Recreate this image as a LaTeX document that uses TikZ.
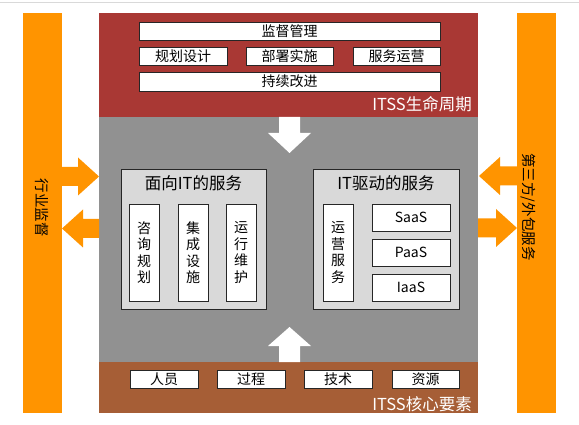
\documentclass[tikz,border=0pt]{standalone}
\usepackage{fontspec}
\usepackage{xcolor}
\usepackage{tikz}
\setmainfont{Noto Sans CJK SC}
\newfontfamily\cjk{Noto Sans CJK SC}
\definecolor{lifered}{RGB}{169,56,52}
\definecolor{coregray}{RGB}{145,145,145}
\definecolor{corebrown}{RGB}{166,94,54}
\definecolor{sideorange}{RGB}{255,148,0}
\definecolor{panelgray}{RGB}{217,217,217}
\begin{document}
\begin{tikzpicture}
        [x=1pt,y=-1pt,
         every node/.style={inner sep=0pt,font=\cjk\fontsize{14}{16.5}\selectfont},
         box/.style={draw=black!85,line width=0.8pt,fill=white,minimum height=18pt},
         vbox/.style={box,minimum width=30pt,minimum height=97pt,align=center},
         panel/.style={draw=black!85,line width=0.8pt,fill=panelgray,minimum width=145pt,minimum height=140pt},
         title/.style={font=\cjk\fontsize{16.5}{18}\selectfont},
         side/.style={rotate=-90,font=\cjk\fontsize{14.5}{16}\selectfont}]
        \useasboundingbox (0,0) rectangle (579,425);
        \draw[black!15,line width=1pt] (0,3) -- (579,3);

        % bands
        \fill[sideorange] (23,13) rectangle (62,413);
        \fill[sideorange] (517,13) rectangle (556,413);
        \fill[lifered] (99,13) rectangle (478,117);
        \fill[coregray] (99,117) rectangle (478,362);
        \fill[corebrown] (99,362) rectangle (478,413);

        % arrows
        \foreach \sx/\bx/\tx/\yc in {62/78/99/176.5,99/83/62/228.5,517/500/479/176,478/496/517/228}
          \fill[sideorange] (\sx,\yc-9.5) -- (\bx,\yc-9.5) -- (\bx,\yc-19) -- (\tx,\yc)
            -- (\bx,\yc+19) -- (\bx,\yc+9.5) -- (\sx,\yc+9.5) -- cycle;
        \foreach \sy/\by/\ty in {117/133/153,362/346/327}
          \fill[white] (279,\sy) -- (279,\by) -- (268,\by) -- (289.5,\ty)
            -- (311,\by) -- (300,\by) -- (300,\sy) -- cycle;

        % ITSS life cycle
        \node[box,minimum width=301pt] (supervise) at (289.5,31) {监督管理};
        \node[box,minimum width=88pt] (plan) at (183,56) {规划设计};
        \node[box,minimum width=87pt] (deploy) at (289.5,56) {部署实施};
        \node[box,minimum width=87pt] (operate) at (396.5,56) {服务运营};
        \node[box,minimum width=301pt,minimum height=19pt] (improve) at (289.5,81.5) {持续改进};
        \node[title,text=white,anchor=east] (lifecycle) at (472,104) {ITSS生命周期};

        % services
        \node[panel] (itfor) at (193.5,239) {};
        \node[title] (itfortitle) at (193.5,183) {面向IT的服务};
        \node[vbox] (consult) at (144,252.5) {咨\\询\\规\\划};
        \node[vbox] (integrate) at (193,252.5) {集\\成\\设\\施};
        \node[vbox] (maintain) at (241,252.5) {运\\行\\维\\护};
        \node[panel,minimum width=146pt] (itdriven) at (386,239) {};
        \node[title] (itdriventitle) at (386,183) {IT驱动的服务};
        \node[vbox] (opservice) at (338,252.5) {运\\营\\服\\务};
        \node[box,minimum width=78pt,minimum height=27pt] (saas) at (411,217.5) {SaaS};
        \node[box,minimum width=78pt,minimum height=27pt] (paas) at (411,252.5) {PaaS};
        \node[box,minimum width=78pt,minimum height=27pt] (iaas) at (411,287.5) {IaaS};

        % ITSS core elements
        \node[box,minimum width=68pt] (people) at (164,379) {人员};
        \node[box,minimum width=68pt] (process) at (251,379) {过程};
        \node[box,minimum width=68pt] (tech) at (338,379) {技术};
        \node[box,minimum width=67pt] (resource) at (425.5,379) {资源};
        \node[title,text=white,anchor=east] (core) at (472,404) {ITSS核心要素};

        % sides
        \node[side] (regulate) at (42,208) {行业监督};
        \node[side] (outsource) at (528,207) {第三方/外包服务};
    \end{tikzpicture}
\end{document}
